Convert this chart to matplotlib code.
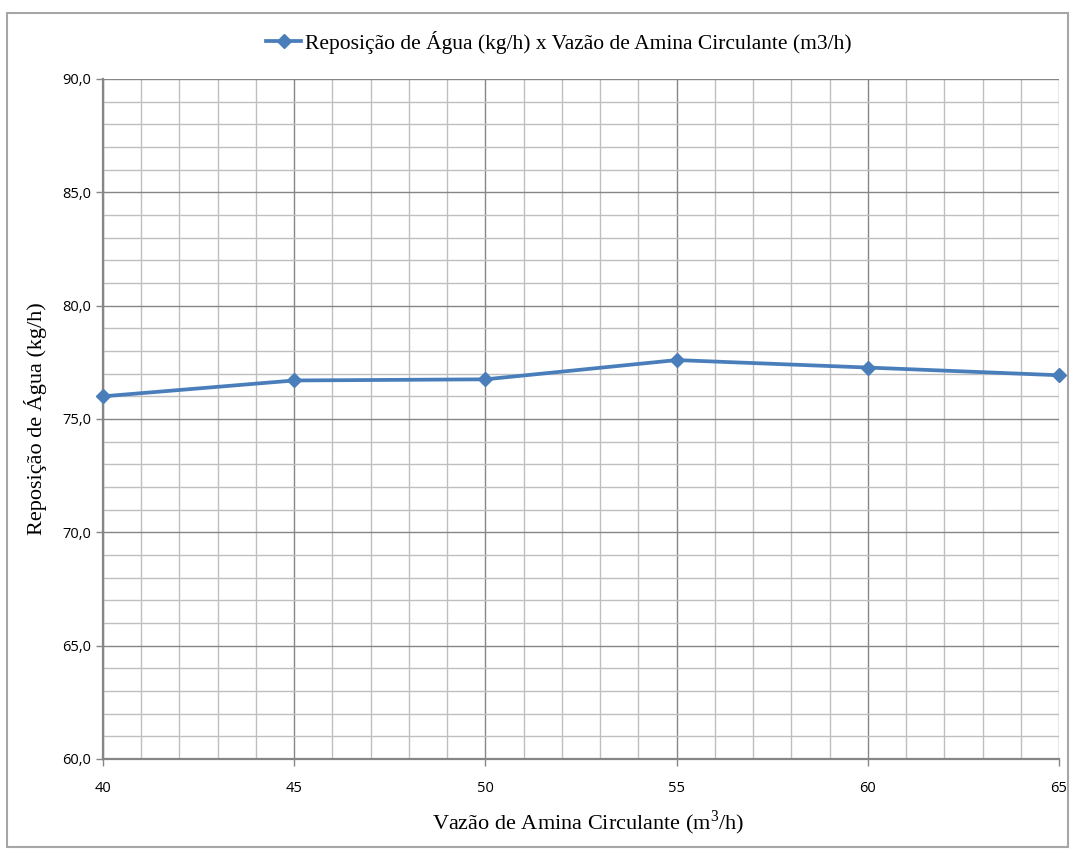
import matplotlib.pyplot as plt
from matplotlib.patches import Rectangle
from matplotlib.ticker import FuncFormatter, MultipleLocator

vazao = [40, 45, 50, 55, 60, 65]
reposicao = [76.0, 76.7, 76.75, 77.6, 77.27, 76.93]

serie_label = "Reposição de Água (kg/h) x Vazão de Amina Circulante (m3/h)"
x_label = "Vazão de Amina Circulante (m$^3$/h)"
y_label = "Reposição de Água (kg/h)"

plt.rcParams["font.family"] = ["Liberation Serif", "DejaVu Serif"]
plt.rcParams["mathtext.fontset"] = "custom"
plt.rcParams["mathtext.rm"] = "Liberation Serif"

fig = plt.figure(figsize=(10.73, 8.49), dpi=100)
ax = fig.add_axes([103 / 1073, 1 - 759 / 849, (1059 - 103) / 1073, (759 - 79) / 849])

ax.plot(vazao, reposicao, color="#4A7EBB", linewidth=2.7, marker="D", markersize=7.5,
        label=serie_label, zorder=5, clip_on=False)

ax.set_xlim(40, 65)
ax.set_ylim(60, 90)
ax.xaxis.set_major_locator(MultipleLocator(5))
ax.xaxis.set_minor_locator(MultipleLocator(1))
ax.yaxis.set_major_locator(MultipleLocator(5))
ax.yaxis.set_minor_locator(MultipleLocator(1))
ax.yaxis.set_major_formatter(FuncFormatter(lambda v, _: f"{v:.1f}".replace(".", ",")))

ax.grid(which="major", color="#868686", linewidth=1.0)
ax.grid(which="minor", color="#BFBFBF", linewidth=1.0)
ax.set_axisbelow(True)

for side in ("top", "right"):
    ax.spines[side].set_visible(False)
for side in ("left", "bottom"):
    ax.spines[side].set_color("#868686")
    ax.spines[side].set_linewidth(1.6)

ax.tick_params(which="major", direction="out", length=5, color="#868686", width=1)
ax.tick_params(which="minor", length=0)
ax.tick_params(axis="x", pad=11)
for lbl in ax.get_xticklabels() + ax.get_yticklabels():
    lbl.set_fontfamily(["Open Sans", "DejaVu Sans"])
    lbl.set_fontsize(10.5)

ax.set_xlabel(x_label, fontsize=16)
ax.xaxis.set_label_coords(0.508, -0.094, transform=ax.transAxes)
ax.xaxis.label.set_verticalalignment("center")
ax.set_ylabel(y_label, fontsize=16, labelpad=11)

leg = fig.legend(loc="center", bbox_to_anchor=(559 / 1073, 1 - 42 / 849), frameon=False,
                 fontsize=15.5, handlelength=1.6, handletextpad=0.2)

fig.patches.append(Rectangle((7 / 1073, 0.002), (1068 - 7) / 1073, 1 - 13 / 849 - 0.002,
                             transform=fig.transFigure, fill=False,
                             edgecolor="#A6A6A6", linewidth=1.5))

fig.savefig("out.png", dpi=100)
plt.close(fig)
